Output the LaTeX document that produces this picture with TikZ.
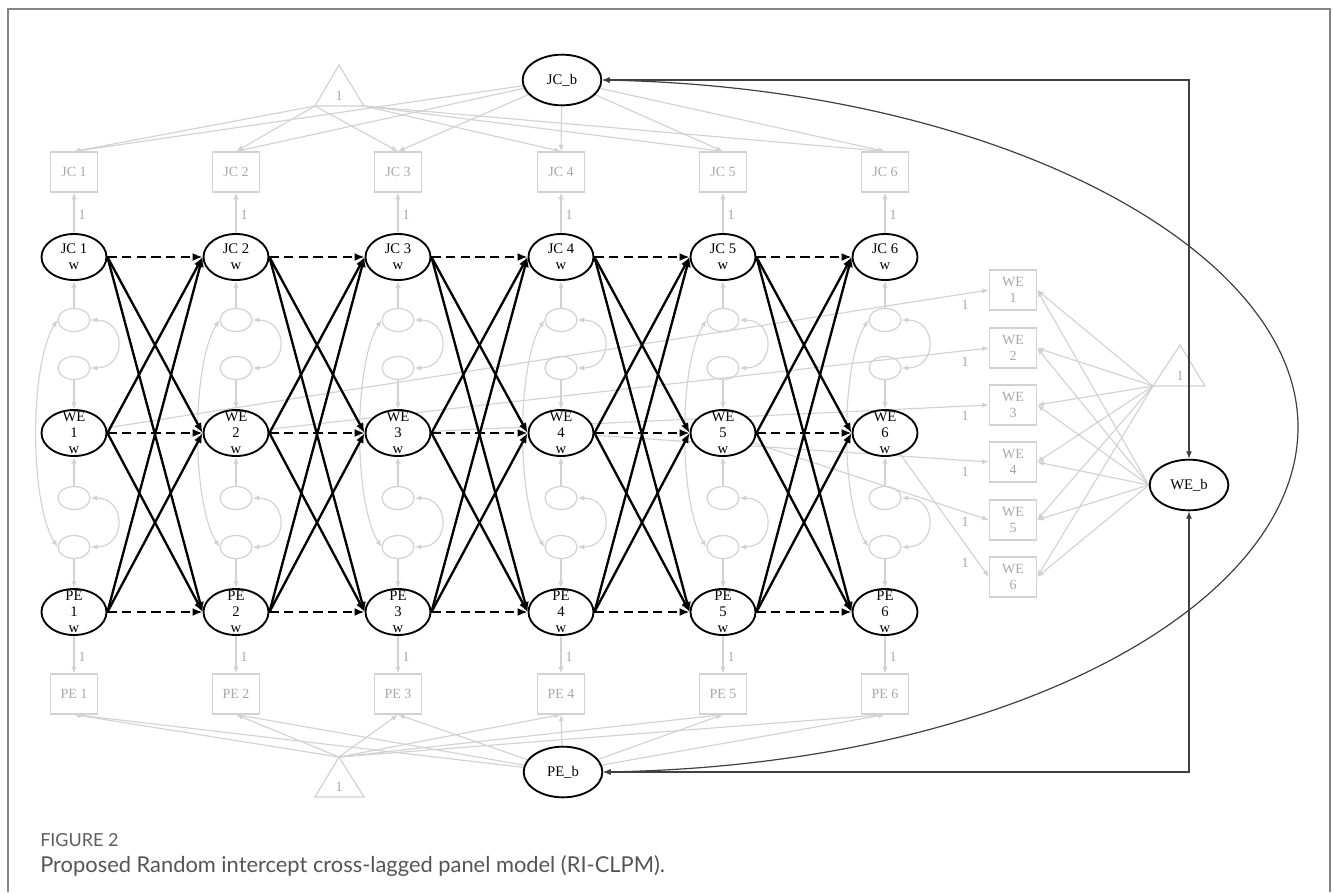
\documentclass[tikz,border=0pt]{standalone}
\usepackage{fontspec}
\setmainfont{Liberation Serif}
\newfontfamily\capfont{Lato}
\usetikzlibrary{arrows.meta,shapes.geometric}
\pgfdeclarelayer{back}
\pgfsetlayers{back,main}
\definecolor{boxgray}{HTML}{D2D2D2}
\definecolor{txtgray}{HTML}{A8A8A8}
\definecolor{framegray}{HTML}{858585}
\definecolor{linkgray}{HTML}{404040}
\definecolor{capgray}{HTML}{555555}
\definecolor{figgray}{HTML}{5E5E5E}
\begin{document}
\begin{tikzpicture}[x=0.75pt,y=-0.75pt,
  dfont/.style={font=\fontsize{10.5}{11.5}\selectfont},
  within/.style={ellipse,draw=black,line width=1.4pt,fill=white,inner sep=0pt,
     minimum width=48.75pt,minimum height=34.5pt},
  between/.style={ellipse,draw=black,line width=1.4pt,fill=white,inner sep=0pt,
     minimum width=59pt,minimum height=38pt,font=\fontsize{11}{12}\selectfont,text=black},
  resid/.style={ellipse,draw=boxgray,line width=0.9pt,inner sep=0pt,
     minimum width=24pt,minimum height=17.25pt},
  obs/.style={rectangle,draw=boxgray,line width=0.9pt,fill=white,inner sep=0pt,
     minimum width=35.25pt,minimum height=30pt,dfont,text=txtgray,align=center},
  wtext/.style={font=\fontsize{11}{12}\selectfont,align=center,text=black,inner sep=0pt},
  gtext/.style={dfont,text=txtgray,inner sep=0pt},
  garrow/.style={draw=boxgray,line width=0.85pt,-{Latex[length=5pt,width=4pt]}},
  gboth/.style={draw=boxgray,line width=0.85pt,{Latex[length=5pt,width=4pt]}-{Latex[length=5pt,width=4pt]}},
  lag/.style={draw=black,line width=1.75pt,-{Latex[length=7.5pt,width=6pt]}},
  autoreg/.style={lag,dash pattern=on 7pt off 4pt},
  link/.style={draw=linkgray,line width=0.9pt,{Latex[length=5.5pt,width=4.5pt]}-{Latex[length=5.5pt,width=4.5pt]}},
  tri/.style={draw=boxgray,line width=0.9pt},
]
\useasboundingbox (0,0) rectangle (1333,892);

% frame
\draw[framegray,line width=1.1pt] (8,892) -- (8,9) -- (1330,9) -- (1330,892);

% within-person latent variables, residuals and observed indicators
\foreach \i/\x in {1/74,2/236,3/398,4/561,5/723,6/885}{
  \node[within,label={[wtext]center:JC \i\\w}] (J\i) at (\x,257) {};
  \node[within,label={[wtext]center:WE\\\i\\w}] (W\i) at (\x,433) {};
  \node[within,label={[wtext]center:PE\\\i\\w}] (P\i) at (\x,612) {};
  \node[resid] (Ea\i) at (\x,320) {};
  \node[resid] (Eb\i) at (\x,368) {};
  \node[resid] (Ec\i) at (\x,498) {};
  \node[resid] (Ed\i) at (\x,547) {};
  \node[obs] (JB\i) at (\x,172) {JC \i};
  \node[obs] (PB\i) at (\x,694) {PE \i};
  \node[gtext] (LJ\i) at (\x+8,215) {1};
  \node[gtext] (LP\i) at (\x+8,657) {1};
}
\foreach \i/\y in {1/290,2/348,3/405,4/462,5/520,6/577}
  \node[obs] (WB\i) at (1013,\y) {WE\\\i};
\foreach \i/\y in {1/305,2/362,3/416,4/472,5/522,6/563}
  \node[gtext] (LW\i) at (965,\y) {1};

% between-person random intercepts
\node[between] (JCb) at (562,80) {JC\_b};
\node[between] (WEb) at (1189,485) {WE\_b};
\node[between] (PEb) at (563,772) {PE\_b};

% mean triangles
\coordinate (TTa) at (339,65);  \coordinate (TTl) at (315,106); \coordinate (TTr) at (364,106);
\coordinate (TBa) at (339,757); \coordinate (TBl) at (315,797); \coordinate (TBr) at (364,797);
\coordinate (TRa) at (1180,345); \coordinate (TRl) at (1153,386); \coordinate (TRr) at (1205,386);
\draw[tri] (TTa) -- (TTl) -- (TTr) -- cycle;
\draw[tri] (TBa) -- (TBl) -- (TBr) -- cycle;
\draw[tri] (TRa) -- (TRl) -- (TRr) -- cycle;
\node[gtext] (MT) at (339,96) {1};
\node[gtext] (MB) at (339,787) {1};
\node[gtext] (MR) at (1180,376) {1};

% grey measurement part
\begin{pgfonlayer}{back}
\fill[white] (0,0) rectangle (1333,892);
\foreach \i in {1,...,6}{
  \draw[garrow] (J\i) -- (JB\i);
  \draw[garrow] (P\i) -- (PB\i);
  \draw[garrow] (Ea\i) -- (J\i);
  \draw[garrow] (Eb\i) -- (W\i);
  \draw[garrow] (Ec\i) -- (W\i);
  \draw[garrow] (Ed\i) -- (P\i);
  \draw[gboth] (Ea\i.east) .. controls +(36,0) and +(36,0) .. (Eb\i.east);
  \draw[gboth] (Ec\i.east) .. controls +(36,0) and +(36,0) .. (Ed\i.east);
  \draw[gboth] (Ea\i.west) .. controls +(-28,45) and +(-28,-45) .. (Ed\i.west);
  \draw[garrow] (JCb) -- (JB\i.north);
  \draw[garrow] (PEb) -- (PB\i.south);
  \draw[garrow] (W\i) -- (WB\i.west);
  \draw[garrow] (WEb.west) -- (WB\i.east);
  \draw[garrow] (TRl) -- (WB\i.east);
  \draw[garrow] (TBa) -- (PB\i.south);
}
\foreach \i in {1,2,3} \draw[garrow] (TTl) -- (JB\i.north);
\foreach \i in {4,5,6} \draw[garrow] (TTr) -- (JB\i.north);
\end{pgfonlayer}

% autoregressive (dashed) and cross-lagged (solid) paths
\foreach \i/\j in {1/2,2/3,3/4,4/5,5/6}{
  \draw[autoreg] (J\i.east) -- (J\j.west);
  \draw[autoreg] (W\i.east) -- (W\j.west);
  \draw[autoreg] (P\i.east) -- (P\j.west);
  \draw[lag] (J\i.east) -- (W\j.west);
  \draw[lag] (J\i.east) -- (P\j.west);
  \draw[lag] (W\i.east) -- (J\j.west);
  \draw[lag] (W\i.east) -- (P\j.west);
  \draw[lag] (P\i.east) -- (J\j.west);
  \draw[lag] (P\i.east) -- (W\j.west);
}

% covariances between random intercepts
\coordinate (BRt) at (1189,80);
\coordinate (BRb) at (1189,772);
\coordinate (CR) at (1298,427);
\draw[link] (JCb.east) -- (BRt) -- (WEb.north);
\draw[link] (PEb.east) -- (BRb) -- (WEb.south);
\draw[link] (JCb.east) .. controls (1000,88) and (1298,250) .. (CR)
  .. controls (1298,605) and (1010,765) .. (PEb.east);

% caption
\node[anchor=west,text=figgray,font=\capfont\fontsize{13.5}{15}\selectfont,inner sep=0pt] (figlabel) at (40,840) {FIGURE 2};
\node[anchor=west,text=capgray,font=\capfont\fontsize{16.4}{19}\selectfont,inner sep=0pt] (figcaption) at (40,866) {Proposed Random intercept cross-lagged panel model (RI-CLPM).};
\end{tikzpicture}
\end{document}
